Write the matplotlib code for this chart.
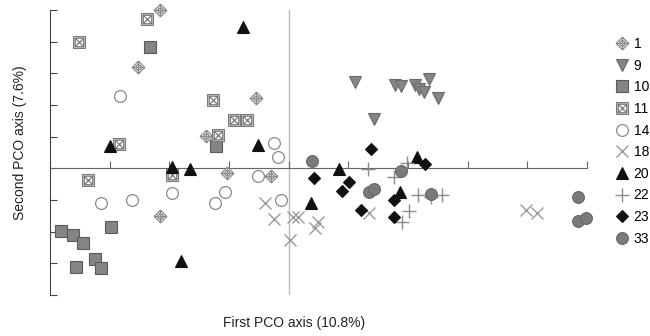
import matplotlib
matplotlib.use('Agg')
import matplotlib.pyplot as plt
from matplotlib.path import Path
from matplotlib.lines import Line2D

plt.rcParams['font.family'] = ['Liberation Sans', 'DejaVu Sans']

# ---- data (PCO scores; axis units = tick spacing) ----
labels = ['1', '9', '10', '11', '14', '18', '20', '22', '23', '33']

x_1 = [-2.15, -2.53, -0.55, -1.38, -1.04, -0.29, -2.16]
y_1 = [5.00, 3.20, 2.22, 1.01, -0.16, -0.25, -1.49]

x_9 = [1.12, 1.78, 1.88, 2.11, 2.18, 2.26, 2.35, 2.50, 1.43]
y_9 = [2.72, 2.63, 2.59, 2.63, 2.50, 2.41, 2.82, 2.22, 1.55]

x_10 = [-2.33, -1.22, -3.81, -3.61, -3.44, -2.97, -3.56, -3.24, -3.14]
y_10 = [3.83, 0.70, -1.99, -2.12, -2.37, -1.84, -3.13, -2.85, -3.16]

x_11 = [-3.51, -2.38, -2.85, -3.37, -1.95, -1.26, -0.91, -0.69, -1.19]
y_11 = [3.99, 4.72, 0.76, -0.38, -0.22, 2.15, 1.52, 1.52, 1.04]

x_14 = [-2.82, -3.15, -2.63, -1.96, -1.24, -1.07, -0.25, -0.18, -0.52, -0.13]
y_14 = [2.28, -1.11, -1.01, -0.79, -1.11, -0.76, 0.79, 0.35, -0.25, -1.01]

x_18 = [-0.40, -0.25, 0.08, 0.15, 0.02, 0.44, 0.50, 1.34, 3.98, 4.16]
y_18 = [-1.11, -1.61, -1.55, -1.55, -2.25, -1.87, -1.71, -1.42, -1.30, -1.42]

x_20 = [-3.00, -1.95, -1.66, -1.81, -0.76, -0.52, 0.84, 0.37, 1.86, 2.15]
y_20 = [0.70, 0.03, -0.03, -2.94, 4.46, 0.73, -0.03, -1.11, -0.76, 0.35]

x_22 = [1.33, 1.76, 1.98, 2.16, 2.38, 2.57, 2.01, 1.90]
y_22 = [-0.03, -0.28, 0.16, -0.85, -0.89, -0.85, -1.36, -1.68]

x_23 = [0.42, 0.89, 1.01, 1.21, 1.38, 1.76, 1.76, 2.28]
y_23 = [-0.32, -0.73, -0.44, -1.33, 0.60, -1.01, -1.55, 0.13]

x_33 = [0.39, 1.88, 1.34, 1.43, 2.38, 4.85, 4.85, 4.98]
y_33 = [0.22, -0.09, -0.76, -0.66, -0.82, -0.92, -1.65, -1.58]

xs = [x_1, x_9, x_10, x_11, x_14, x_18, x_20, x_22, x_23, x_33]
ys = [y_1, y_9, y_10, y_11, y_14, y_18, y_20, y_22, y_23, y_33]

# ---- custom marker shapes ----
def crossed_diamond():
    d = Path([(0, 1), (1, 0), (0, -1), (-1, 0), (0, 1)],
             [Path.MOVETO, Path.LINETO, Path.LINETO, Path.LINETO, Path.CLOSEPOLY])
    c = Path.circle((0, 0), 0.42)
    p = Path([(-1, 0), (1, 0), (0, -1), (0, 1)],
             [Path.MOVETO, Path.LINETO, Path.MOVETO, Path.LINETO])
    return Path.make_compound_path(d, c, p)

def crossed_square():
    s = Path([(-1, -1), (1, -1), (1, 1), (-1, 1), (-1, -1)],
             [Path.MOVETO, Path.LINETO, Path.LINETO, Path.LINETO, Path.CLOSEPOLY])
    s2 = Path([(-0.72, -0.72), (0.72, -0.72), (0.72, 0.72), (-0.72, 0.72), (-0.72, -0.72)],
              [Path.MOVETO, Path.LINETO, Path.LINETO, Path.LINETO, Path.CLOSEPOLY])
    x = Path([(-0.72, -0.72), (0.72, 0.72), (-0.72, 0.72), (0.72, -0.72)],
             [Path.MOVETO, Path.LINETO, Path.MOVETO, Path.LINETO])
    return Path.make_compound_path(s, s2, x)

styles = [
    dict(marker=crossed_diamond(), ms=9, mfc='white', mec='#8a8a8a', mew=0.9),
    dict(marker='v', ms=8.5, mfc='#858585', mec='#6a6a6a', mew=0.8),
    dict(marker='s', ms=8, mfc='#858585', mec='#5a5a5a', mew=0.8),
    dict(marker=crossed_square(), ms=8.5, mfc='white', mec='#7a7a7a', mew=0.9),
    dict(marker='o', ms=8.5, mfc='white', mec='#8a8a8a', mew=0.9),
    dict(marker='x', ms=9, mfc='none', mec='#9a9a9a', mew=1.0),
    dict(marker='^', ms=8.5, mfc='#111111', mec='#111111', mew=0.8),
    dict(marker='+', ms=9.5, mfc='none', mec='#8a8a8a', mew=1.0),
    dict(marker='D', ms=5.8, mfc='#111111', mec='#111111', mew=0.8),
    dict(marker='o', ms=8.5, mfc='#7a7a7a', mec='#666666', mew=0.8),
]

fig = plt.figure(figsize=(6.5, 3.36), dpi=100)
ax = fig.add_axes([50 / 650, 1 - 295 / 336, 537 / 650, 285 / 336])
ax.set_xlim(-4, 5)
ax.set_ylim(-4, 5)

for s in ['top', 'right']:
    ax.spines[s].set_visible(False)
ax.spines['bottom'].set_position(('data', 0))
ax.spines['bottom'].set_color('#666666')
ax.spines['left'].set_color('#444444')
ax.set_xticks(range(-4, 6))
ax.set_yticks(range(-4, 6))
ax.tick_params(axis='x', direction='in', length=5, color='#666666', labelbottom=False)
ax.tick_params(axis='y', direction='in', length=5, color='#444444', labelleft=False)
ax.axvline(0, color='#bbbbbb', lw=1.0, zorder=0.5)

handles = []
for x, y, st, lab in zip(xs, ys, styles, labels):
    ax.plot(x, y, ls='none', clip_on=False, zorder=3, **st)
    handles.append(Line2D([], [], ls='none', **st))

fig.legend(handles, labels, loc='upper left', bbox_to_anchor=(615 / 650, 1 - 37 / 336),
           frameon=False, handlelength=1.0, handletextpad=0.35, labelspacing=0.55,
           borderpad=0, borderaxespad=0, fontsize=10, numpoints=1)

fig.text(294 / 650, 1 - 323 / 336, 'First PCO axis (10.8%)', ha='center', va='center',
         fontsize=10, color='#222222')
fig.text(20 / 650, 1 - 143 / 336, 'Second PCO axis (7.6%)', ha='center', va='center',
         rotation=90, fontsize=10, color='#222222')

fig.savefig('out.png', dpi=100)
